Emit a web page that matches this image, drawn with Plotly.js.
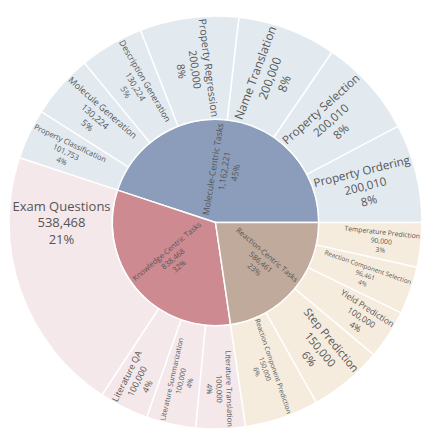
<!DOCTYPE html>
<html>
<head>
<meta charset="utf-8">
<script src="https://cdn.plot.ly/plotly-3.0.1.min.js"></script>
<style>html,body{margin:0;padding:0;background:#fff;}#chart{width:431px;height:442px;}</style>
</head>
<body>
<div id="chart"></div>
<script>
const groups = ["Molecule-Centric Tasks", "Knowledge-Centric Tasks", "Reaction-Centric Tasks"];
const groupValues = [1162221, 838468, 586461];
const groupColors = ["#8b9dba", "#cd8a91", "#bfaa9c"];
const leafColors = ["#d6e2eb", "#f0dfe3", "#f3e4d1"];

const moleculeTasks = ["Property Ordering", "Property Selection", "Name Translation", "Property Regression", "Description Generation", "Molecule Generation", "Property Classification"];
const moleculeValues = [200010, 200010, 200000, 200000, 130224, 130224, 101753];

const knowledgeTasks = ["Exam Questions", "Literature QA", "Literature Summarization", "Literature Translation"];
const knowledgeValues = [538468, 100000, 100000, 100000];

const reactionTasks = ["Reaction Component Prediction", "Step Prediction", "Yield Prediction", "Reaction Component Selection", "Temperature Prediction"];
const reactionValues = [150000, 150000, 100000, 96461, 90000];

const children = [
  [moleculeTasks, moleculeValues],
  [knowledgeTasks, knowledgeValues],
  [reactionTasks, reactionValues]
];

const labels = [], parents = [], values = [], colors = [], sizes = [];
groups.forEach((g, i) => {
  labels.push(g); parents.push(""); values.push(groupValues[i]); colors.push(groupColors[i]); sizes.push(22);
});
children.forEach(([names, vals], i) => {
  names.forEach((n, j) => {
    labels.push(n); parents.push(groups[i]); values.push(vals[j]); colors.push(leafColors[i]);
    sizes.push(n === "Exam Questions" ? 13 : 22);
  });
});

Plotly.newPlot("chart", [{
  type: "sunburst",
  labels: labels,
  parents: parents,
  values: values,
  branchvalues: "total",
  sort: true,
  marker: {colors: colors, line: {color: "#ffffff", width: 1.5}},
  texttemplate: "%{label}<br>%{value:,}<br>%{percentRoot:.0%}",
  textfont: {family: "Open Sans, sans-serif", size: sizes, color: "#555555"},
  insidetextorientation: "radial",
  hoverinfo: "label+value"
}], {
  width: 431, height: 442,
  margin: {l: 9, r: 9, t: 16, b: 13},
  paper_bgcolor: "#ffffff",
  showlegend: false
}, {displayModeBar: false, staticPlot: true});
</script>
</body>
</html>
